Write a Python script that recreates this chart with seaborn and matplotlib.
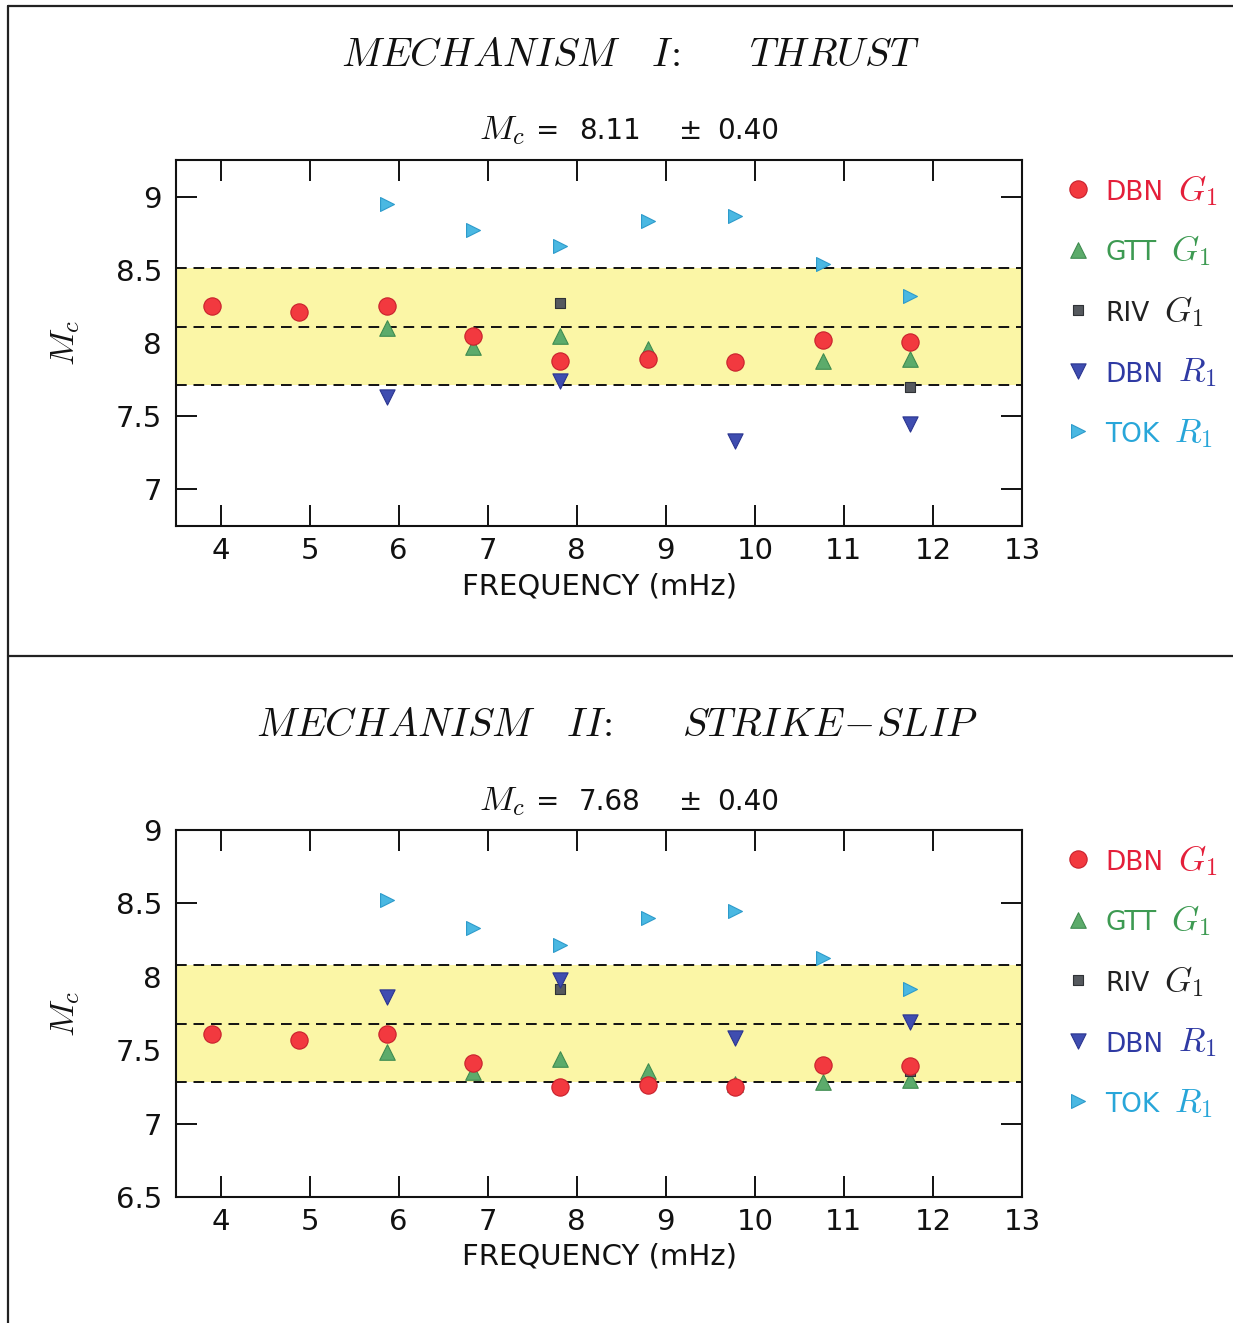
import numpy as np
import pandas as pd
import matplotlib
matplotlib.use("Agg")
import matplotlib.pyplot as plt
import seaborn as sns
from matplotlib.lines import Line2D

# ---------------- data ----------------
freq_all = [3.9, 4.88, 5.87, 6.84, 7.81, 8.8, 9.78, 10.76, 11.74]

# Mechanism I : thrust
thr_mean, thr_err = 8.11, 0.40
thr_dbn_g1_f = [3.9, 4.88, 5.87, 6.84, 7.81, 8.8, 9.78, 10.76, 11.74]
thr_dbn_g1 = [8.25, 8.21, 8.25, 8.05, 7.88, 7.89, 7.87, 8.02, 8.01]
thr_gtt_g1_f = [5.87, 6.84, 7.81, 8.8, 10.76, 11.74]
thr_gtt_g1 = [8.10, 7.97, 8.05, 7.96, 7.88, 7.89]
thr_riv_g1_f = [7.81, 11.74]
thr_riv_g1 = [8.27, 7.70]
thr_dbn_r1_f = [5.87, 7.81, 9.78, 11.74]
thr_dbn_r1 = [7.63, 7.74, 7.33, 7.45]
thr_tok_r1_f = [5.87, 6.84, 7.81, 8.8, 9.78, 10.76, 11.74]
thr_tok_r1 = [8.95, 8.77, 8.66, 8.83, 8.87, 8.54, 8.32]

# Mechanism II : strike-slip
ss_mean, ss_err = 7.68, 0.40
ss_dbn_g1_f = [3.9, 4.88, 5.87, 6.84, 7.81, 8.8, 9.78, 10.76, 11.74]
ss_dbn_g1 = [7.61, 7.57, 7.61, 7.41, 7.25, 7.26, 7.25, 7.40, 7.39]
ss_gtt_g1_f = [5.87, 6.84, 7.81, 8.8, 9.78, 10.76, 11.74]
ss_gtt_g1 = [7.49, 7.35, 7.44, 7.36, 7.27, 7.28, 7.30]
ss_riv_g1_f = [7.81, 11.74]
ss_riv_g1 = [7.92, 7.36]
ss_dbn_r1_f = [5.87, 7.81, 9.78, 11.74]
ss_dbn_r1 = [7.86, 7.98, 7.58, 7.69]
ss_tok_r1_f = [5.87, 6.84, 7.81, 8.8, 9.78, 10.76, 11.74]
ss_tok_r1 = [8.52, 8.33, 8.22, 8.40, 8.45, 8.13, 7.92]

series_names = ["GTT G1", "RIV G1", "DBN G1", "DBN R1", "TOK R1"]
legend_order = ["DBN G1", "GTT G1", "RIV G1", "DBN R1", "TOK R1"]
legend_station = {"DBN G1": "DBN", "GTT G1": "GTT", "RIV G1": "RIV",
                  "DBN R1": "DBN", "TOK R1": "TOK"}
legend_wave = {"DBN G1": r"$G_1$", "GTT G1": r"$G_1$", "RIV G1": r"$G_1$",
               "DBN R1": r"$R_1$", "TOK R1": r"$R_1$"}

x_ticks = [4, 5, 6, 7, 8, 9, 10, 11, 12, 13]
thr_yticks = [7, 7.5, 8, 8.5, 9]
ss_yticks = [6.5, 7, 7.5, 8, 8.5, 9]
ytick_labels = {6.5: "6.5", 7: "7", 7.5: "7.5", 8: "8", 8.5: "8.5", 9: "9"}

# ---------------- styles ----------------
style = {
    "DBN G1": dict(marker="o", s=155, fc="#f2393f", ec="#c8202c", tc="#e41f3a"),
    "GTT G1": dict(marker="^", s=125, fc="#5cab6b", ec="#3f8c50", tc="#3d9a52"),
    "RIV G1": dict(marker="s", s=62, fc="#55595e", ec="#2f3236", tc="#222222"),
    "DBN R1": dict(marker="v", s=120, fc="#3f4db0", ec="#2b3590", tc="#2f3aa3"),
    "TOK R1": dict(marker=">", s=100, fc="#4ab8e2", ec="#2d9bcb", tc="#28a6d9"),
}

sns.set_style("ticks")
plt.rcParams["font.family"] = ["DejaVu Sans"]
plt.rcParams["mathtext.fontset"] = "cm"

W, H = 1233, 1323
fig = plt.figure(figsize=(W / 100, H / 100), dpi=100)
renderer = fig.canvas.get_renderer()

def fx(px):
    return px / W

def fy(py):
    return 1 - py / H

def make_df(fs, vs, name):
    return pd.DataFrame({"freq": fs, "mc": vs, "series": name})

panels = [
    dict(top=160, bottom=526, ylim=(6.75, 9.25), yticks=thr_yticks,
         mean=thr_mean, err=thr_err,
         data={"DBN G1": (thr_dbn_g1_f, thr_dbn_g1), "GTT G1": (thr_gtt_g1_f, thr_gtt_g1),
               "RIV G1": (thr_riv_g1_f, thr_riv_g1), "DBN R1": (thr_dbn_r1_f, thr_dbn_r1),
               "TOK R1": (thr_tok_r1_f, thr_tok_r1)},
         title=r"$MECHANISM\quad I\!{:}\quad\;\;\, THRUST$", title_y=66, title_x=630,
         sub_val="8.11", sub_y=139),
    dict(top=830, bottom=1197, ylim=(6.5, 9.0), yticks=ss_yticks,
         mean=ss_mean, err=ss_err,
         data={"DBN G1": (ss_dbn_g1_f, ss_dbn_g1), "GTT G1": (ss_gtt_g1_f, ss_gtt_g1),
               "RIV G1": (ss_riv_g1_f, ss_riv_g1), "DBN R1": (ss_dbn_r1_f, ss_dbn_r1),
               "TOK R1": (ss_tok_r1_f, ss_tok_r1)},
         title=r"$MECHANISM\quad II\!{:}\quad\;\;\, STRIKE\!-\!SLIP$", title_y=736, title_x=617,
         sub_val="7.68", sub_y=810),
]

L, R = 176, 1022
for p in panels:
    hgt = p["bottom"] - p["top"]
    ax = fig.add_axes([fx(L), fy(p["bottom"]), fx(R - L), hgt / H])
    ax.set_xlim(3.5, 13)
    ax.set_ylim(*p["ylim"])
    # band
    ax.axhspan(p["mean"] - p["err"], p["mean"] + p["err"], color="#fbf6a6", lw=0, zorder=2)
    for yv in (p["mean"] - p["err"], p["mean"], p["mean"] + p["err"]):
        ax.axhline(yv, color="#111111", lw=1.4, ls=(0, (5.5, 3.5)), zorder=2.2)
    for name in series_names:
        fs, vs = p["data"][name]
        st = style[name]
        sns.scatterplot(data=make_df(fs, vs, name), x="freq", y="mc", ax=ax,
                        marker=st["marker"], s=st["s"], color=st["fc"],
                        edgecolor=st["ec"], linewidth=0.8, zorder=3, legend=False)
    ax.set_xticks(x_ticks)
    ax.set_xticklabels([str(t) for t in x_ticks])
    ax.set_yticks(p["yticks"])
    ax.set_yticklabels([ytick_labels[t] for t in p["yticks"]])
    ax.tick_params(direction="in", length=15, width=1.4, top=True, right=True,
                   labelsize=21, color="#111111", labelcolor="#111111")
    ax.tick_params(axis="x", pad=8)
    ax.tick_params(axis="y", pad=10)
    for sp in ax.spines.values():
        sp.set_linewidth(1.5)
        sp.set_color("#111111")
        sp.set_visible(True)
    ax.set_xlabel("FREQUENCY (mHz)", fontsize=21, color="#111111")
    ax.xaxis.set_label_coords(0.5, -60 / hgt)
    ax.xaxis.label.set_va("center")
    ax.set_ylabel(r"$M_c$", fontsize=25, color="#111111")
    ax.yaxis.set_label_coords(-(176 - 65) / (R - L), 0.5)
    ax.yaxis.label.set_va("center")

    # legend (manual, in axes coordinates)
    for i, name in enumerate(legend_order):
        st = style[name]
        py = 29 + i * 60.5
        ya = 1 - py / hgt
        ax.scatter([(1078 - L) / (R - L)], [ya], transform=ax.transAxes, clip_on=False,
                   marker=st["marker"], s=st["s"], color=st["fc"], edgecolors=st["ec"],
                   linewidths=0.8, zorder=5)
        t = ax.text((1105 - L) / (R - L), 1 - (py + 11) / hgt, legend_station[name],
                    transform=ax.transAxes, fontsize=19, color=st["tc"], va="baseline",
                    ha="left", clip_on=False)
        ext = t.get_window_extent(renderer=renderer)
        x_end_px = ext.x1
        ax.text((x_end_px + 15 - L) / (R - L), 1 - (py + 11) / hgt, legend_wave[name],
                transform=ax.transAxes, fontsize=25, color=st["tc"], va="baseline",
                ha="left", clip_on=False)

    fig.text(fx(p["title_x"]), fy(p["title_y"]), p["title"], fontsize=29,
             ha="center", va="baseline", color="#111111")
    fig.text(fx(479), fy(p["sub_y"]), r"$M_c$", fontsize=25,
             ha="left", va="baseline", color="#111111")
    sub_kw = dict(fontsize=20, ha="left", va="baseline", color="#111111")
    fig.text(fx(536), fy(p["sub_y"]), "=", **sub_kw)
    fig.text(fx(579), fy(p["sub_y"]), p["sub_val"], **sub_kw)
    fig.text(fx(679), fy(p["sub_y"]), "\u00b1", **sub_kw)
    fig.text(fx(717), fy(p["sub_y"]), "0.40", **sub_kw)

# frame lines
frame_kw = dict(transform=fig.transFigure, color="#222222", lw=1.6)
fig.add_artist(Line2D([fx(8), 1.0], [fy(6), fy(6)], **frame_kw))
fig.add_artist(Line2D([fx(8), 1.0], [fy(656), fy(656)], **frame_kw))
fig.add_artist(Line2D([fx(8), fx(8)], [fy(6), 0.0], **frame_kw))

fig.savefig("out.png", dpi=100, facecolor="white")
